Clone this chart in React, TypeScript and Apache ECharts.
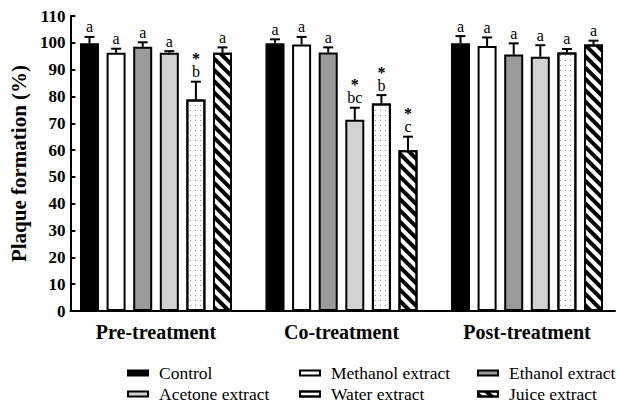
import React, { useEffect, useRef } from "react";
import * as echarts from "echarts";

const categories = ["Pre-treatment", "Co-treatment", "Post-treatment"];
const seriesNames = [
  "Control",
  "Methanol extract",
  "Ethanol extract",
  "Acetone extract",
  "Water extract",
  "Juice extract",
];

const controlValues = [99.8, 99.8, 99.8];
const methanolValues = [96.3, 99.4, 98.8];
const ethanolValues = [98.5, 96.4, 95.6];
const acetoneValues = [96.3, 71.3, 94.8];
const waterValues = [78.9, 77.4, 96.4];
const juiceValues = [96.3, 59.9, 99.4];

const controlErrors = [2.4, 1.5, 2.7];
const methanolErrors = [1.5, 2.8, 3.2];
const ethanolErrors = [1.7, 1.9, 4.2];
const acetoneErrors = [0.6, 4.5, 4.3];
const waterErrors = [6.6, 3.1, 1.3];
const juiceErrors = [2.0, 5.1, 1.4];

const controlLetters = ["a", "a", "a"];
const methanolLetters = ["a", "a", "a"];
const ethanolLetters = ["a", "a", "a"];
const acetoneLetters = ["a", "bc", "a"];
const waterLetters = ["b", "b", "a"];
const juiceLetters = ["a", "c", "a"];

const controlStars = [false, false, false];
const methanolStars = [false, false, false];
const ethanolStars = [false, false, false];
const acetoneStars = [false, true, false];
const waterStars = [true, true, false];
const juiceStars = [false, true, false];

const yTicks = { min: 0, max: 110, interval: 10 };

const allValues = [controlValues, methanolValues, ethanolValues, acetoneValues, waterValues, juiceValues];
const allErrors = [controlErrors, methanolErrors, ethanolErrors, acetoneErrors, waterErrors, juiceErrors];
const allLetters = [controlLetters, methanolLetters, ethanolLetters, acetoneLetters, waterLetters, juiceLetters];
const allStars = [controlStars, methanolStars, ethanolStars, acetoneStars, waterStars, juiceStars];

const FONT = '"Liberation Serif", serif';
const BAR_W = 19;
const GAP_RATIO = 0.4;

const fills: any[] = [
  { color: "#000000" },
  { color: "#ffffff" },
  { color: "#9b9b9b" },
  { color: "#d2d2d2" },
  {
    color: "#ffffff",
    decal: {
      symbol: "rect",
      symbolSize: 1,
      color: "#8c8c8c",
      dashArrayX: [1, 4],
      dashArrayY: [1, 4],
      rotation: 0,
    },
  },
  {
    color: "#ffffff",
    decal: {
      symbol: "rect",
      symbolSize: 1,
      color: "#000000",
      dashArrayX: [1, 0],
      dashArrayY: [3.2, 4],
      rotation: Math.PI / 4,
    },
  },
];

const legendPos = [
  { left: 127, top: 364 },
  { left: 299, top: 364 },
  { left: 477, top: 364 },
  { left: 127, top: 385 },
  { left: 299, top: 385 },
  { left: 477, top: 385 },
];

export default function App() {
  const ref = useRef<HTMLDivElement>(null);
  useEffect(() => {
    if (!ref.current) return;
    const chart = echarts.init(ref.current, null, { renderer: "svg" });
    const pitch = BAR_W * (1 + GAP_RATIO);
    const n = seriesNames.length;

    const barSeries = seriesNames.map((name, k) => ({
      name,
      type: "bar",
      xAxisIndex: 0,
      yAxisIndex: 0,
      data: allValues[k],
      barWidth: BAR_W,
      barGap: GAP_RATIO * 100 + "%",
      itemStyle: { ...fills[k], borderColor: "#000", borderWidth: 2 },
      z: 2,
    }));

    const errSeries = seriesNames.map((name, k) => ({
      name: "err-" + k,
      type: "custom",
      xAxisIndex: 0,
      yAxisIndex: 0,
      z: 3,
      data: allValues[k].map((v, i) => [i, v, allErrors[k][i]]),
      encode: { x: 0, y: 1 },
      renderItem: (params: any, api: any) => {
        const i = params.dataIndex;
        const v = api.value(1);
        const e = api.value(2);
        const off = (k - (n - 1) / 2) * pitch;
        const base = api.coord([i, v]);
        const top = api.coord([i, v + e]);
        const x = base[0] + off;
        const label = (allStars[k][i] ? "{s|*}\n" : "") + "{l|" + allLetters[k][i] + "}";
        const children: any[] = [
          { type: "line", shape: { x1: x, y1: base[1], x2: x, y2: top[1] }, style: { stroke: "#000", lineWidth: 2 } },
          { type: "line", shape: { x1: x - 5, y1: top[1], x2: x + 5, y2: top[1] }, style: { stroke: "#000", lineWidth: 2 } },
          {
            type: "text",
            style: {
              text: label,
              x,
              y: top[1] - 2,
              align: "center",
              verticalAlign: "bottom",
              fill: "#000",
              rich: {
                s: { fontFamily: FONT, fontWeight: "bold", fontSize: 16, lineHeight: 10, fill: "#000" },
                l: { fontFamily: FONT, fontSize: 16, lineHeight: 16, fill: "#000" },
              },
            },
          },
        ];
        return { type: "group", children };
      },
    }));

    const option: any = {
      animation: false,
      backgroundColor: "#ffffff",
      textStyle: { fontFamily: FONT },
      grid: [
        { left: 63.25, width: 556.5, top: 16, bottom: 96 },
        { left: 68, right: 6, top: 16, bottom: 96 },
      ],
      legend: seriesNames.map((name, k) => ({
        data: [name],
        left: legendPos[k].left,
        top: legendPos[k].top,
        padding: 0,
        icon: "rect",
        itemWidth: 20,
        itemHeight: 5,
        selectedMode: false,
        itemStyle: { borderColor: "#000", borderWidth: 2 },
        formatter: (s: string) => "{t|" + s + "}",
        textStyle: {
          fontFamily: FONT,
          fontSize: 17.5,
          color: "#000",
          rich: { t: { fontFamily: FONT, fontSize: 17.5, color: "#000", padding: [0, 0, 0, 6] } },
        },
      })),
      xAxis: [
        {
          type: "category",
          gridIndex: 0,
          data: categories,
          axisLine: { show: false },
          axisTick: { show: false },
          axisLabel: { fontFamily: FONT, fontWeight: "bold", fontSize: 20, color: "#000", margin: 11 },
        },
        {
          type: "value",
          gridIndex: 1,
          min: 0,
          max: 1,
          axisLine: { show: true, lineStyle: { color: "#000", width: 2 } },
          axisTick: { show: false },
          axisLabel: { show: false },
          splitLine: { show: false },
        },
      ],
      yAxis: [
        {
          type: "value",
          gridIndex: 0,
          min: yTicks.min,
          max: yTicks.max,
          interval: yTicks.interval,
          show: false,
        },
        {
          type: "value",
          gridIndex: 1,
          min: yTicks.min,
          max: yTicks.max,
          interval: yTicks.interval,
          axisLine: { show: true, lineStyle: { color: "#000", width: 2 } },
          axisTick: { show: true, inside: true, length: 5, lineStyle: { color: "#000", width: 2 } },
          axisLabel: { fontFamily: FONT, fontWeight: "bold", fontSize: 17, color: "#000", margin: 5 },
          splitLine: { show: false },
          name: "Plaque formation (%)",
          nameLocation: "middle",
          nameGap: 39,
          nameTextStyle: { fontFamily: FONT, fontWeight: "bold", fontSize: 21, color: "#000" },
        },
      ],
      series: [...barSeries, ...errSeries],
    };
    chart.setOption(option);
    return () => chart.dispose();
  }, []);
  return <div ref={ref} style={{ position: "fixed", left: 0, top: 0, width: 621, height: 407 }} />;
}
